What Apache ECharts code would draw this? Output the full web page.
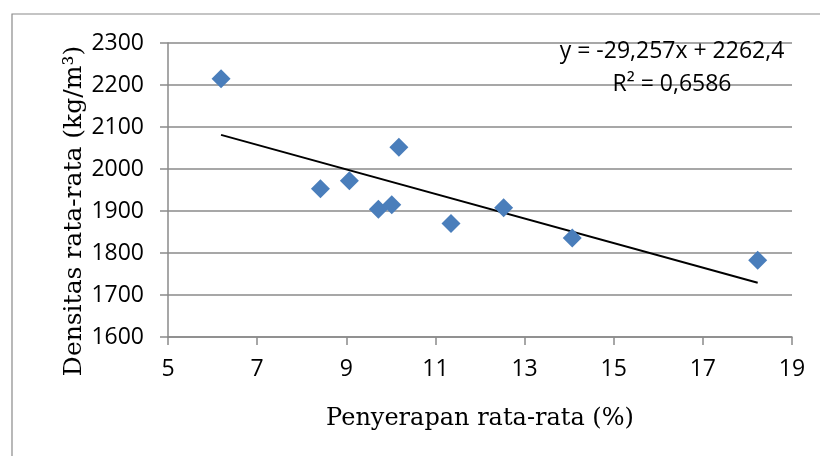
<!DOCTYPE html>
<html>
<head>
<meta charset="utf-8">
<script src="https://cdn.jsdelivr.net/npm/echarts@6/dist/echarts.min.js"></script>
<style>
  html, body { margin: 0; padding: 0; background: #ffffff; }
  #chart { width: 820px; height: 456px; }
</style>
</head>
<body>
<div id="chart"></div>
<script>
// Average water absorption (%) vs. average density (kg/m³)
const absorption = [6.19, 8.42, 9.07, 9.72, 10.02, 10.18, 11.35, 12.53, 14.07, 18.23];
const density = [2215, 1953, 1972, 1904, 1915, 2052, 1870, 1908, 1836, 1783];

// Linear trend line coefficients
const slope = -29.257;
const intercept = 2262.4;
const rSquared = '0,6586';

const xTicks = [5, 7, 9, 11, 13, 15, 17, 19];
const yTicks = [1600, 1700, 1800, 1900, 2000, 2100, 2200, 2300];

const points = absorption.map((x, i) => [x, density[i]]);
const xMin = Math.min(...absorption);
const xMax = Math.max(...absorption);
const trend = [[xMin, slope * xMin + intercept], [xMax, slope * xMax + intercept]];

const fmt = (v, d) => v.toFixed(d).replace('.', ',');
const equation = 'y = ' + fmt(slope, 3) + 'x + ' + fmt(intercept, 1);

const axisGray = '#8a8a8a';
const tickFont = { fontFamily: 'Open Sans', fontSize: 23, color: '#000000' };
const titleFont = { fontFamily: 'DejaVu Serif', fontSize: 24, color: '#000000' };

const chart = echarts.init(document.getElementById('chart'), null, { renderer: 'canvas' });
chart.setOption({
  animation: false,
  backgroundColor: '#ffffff',
  grid: { left: 168, right: 28, top: 43, bottom: 119 },
  xAxis: {
    type: 'value',
    min: xTicks[0],
    max: xTicks[xTicks.length - 1],
    interval: xTicks[1] - xTicks[0],
    name: 'Penyerapan rata-rata (%)',
    nameLocation: 'middle',
    nameGap: 70,
    nameTextStyle: titleFont,
    axisLine: { show: true, lineStyle: { color: axisGray, width: 1.5 } },
    axisTick: { show: true, inside: false, length: 8, lineStyle: { color: axisGray, width: 1.5 } },
    axisLabel: Object.assign({ margin: 21, formatter: v => String(v) }, tickFont),
    splitLine: { show: false }
  },
  yAxis: {
    type: 'value',
    min: yTicks[0],
    max: yTicks[yTicks.length - 1],
    interval: yTicks[1] - yTicks[0],
    axisLine: { show: true, lineStyle: { color: axisGray, width: 1.5 } },
    axisTick: { show: true, inside: false, length: 8, lineStyle: { color: axisGray, width: 1.5 } },
    axisLabel: Object.assign({ margin: 24, formatter: v => String(v) }, tickFont),
    splitLine: { show: true, lineStyle: { color: axisGray, width: 1.5 } }
  },
  series: [
    {
      type: 'line',
      data: trend,
      showSymbol: false,
      symbol: 'none',
      lineStyle: { color: '#000000', width: 2 },
      z: 3
    },
    {
      type: 'scatter',
      data: points,
      symbol: 'diamond',
      symbolSize: 19,
      itemStyle: { color: '#4a7ebb', opacity: 1 },
      z: 4
    }
  ],
  graphic: [
    {
      type: 'rect',
      shape: { x: 12, y: 14, width: 900, height: 500 },
      style: { fill: null, stroke: axisGray, lineWidth: 1.2 },
      silent: true
    },
    {
      // vertical axis title, centred on the chart area
      type: 'text',
      x: 74,
      y: 211,
      rotation: Math.PI / 2,
      style: {
        text: 'Densitas rata-rata (kg/m³)',
        align: 'center',
        verticalAlign: 'middle',
        fontFamily: 'DejaVu Serif',
        fontSize: 25,
        fill: '#000000'
      },
      z: 10
    },
    {
      type: 'text',
      x: 672,
      y: 35,
      style: {
        text: equation + '\n' + 'R² = ' + rSquared,
        align: 'center',
        verticalAlign: 'top',
        fontFamily: 'Open Sans',
        fontSize: 23,
        lineHeight: 33,
        fill: '#000000'
      },
      z: 10
    }
  ]
});
</script>
</body>
</html>
